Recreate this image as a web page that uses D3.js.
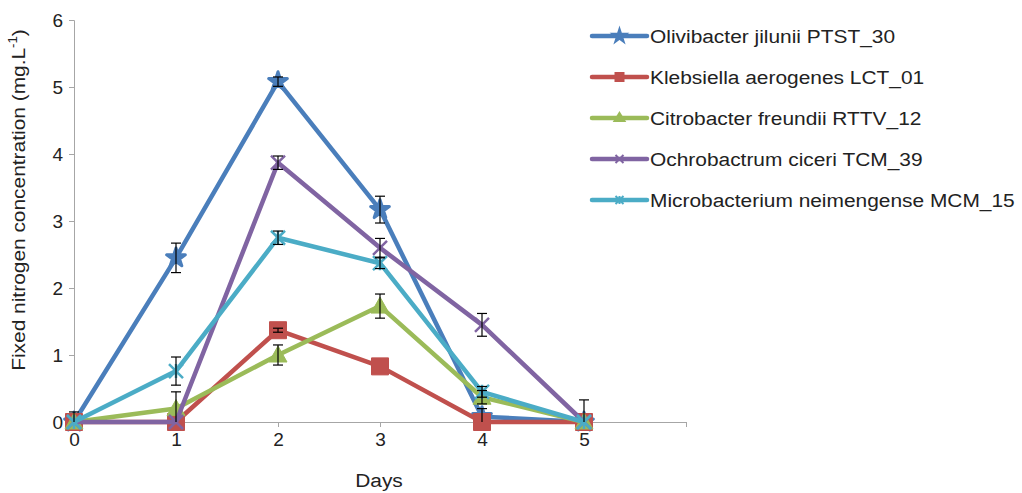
<!DOCTYPE html>
<html>
<head>
<meta charset="utf-8">
<script src="https://cdn.jsdelivr.net/npm/d3@7"></script>
<style>
  body { margin: 0; background: #fff; }
  svg { font-family: "Liberation Sans", Arial, sans-serif; }
</style>
</head>
<body>
<svg id="chart" width="1022" height="493"></svg>
<script>
// Data
var days = [0, 1, 2, 3, 4, 5];
var seriesNames = [
    'Olivibacter jilunii PTST_30',
    'Klebsiella aerogenes LCT_01',
    'Citrobacter freundii RTTV_12',
    'Ochrobactrum ciceri TCM_39',
    'Microbacterium neimengense MCM_15'
];
var olivibacter    = [0, 2.45, 5.08, 3.17, 0.08, 0];
var klebsiella     = [0, 0, 1.37, 0.83, 0, 0];
var citrobacter    = [0, 0.2, 1.0, 1.73, 0.37, 0];
var ochrobactrum   = [0, 0, 3.87, 2.6, 1.45, 0];
var microbacterium = [0, 0.76, 2.75, 2.37, 0.45, 0];

var olivibacterErr    = [0.15, 0.22, 0.07, 0.2, 0.12, 0.33];
var klebsiellaErr     = [0, 0, 0.03, 0, 0, 0];
var citrobacterErr    = [0, 0.25, 0.15, 0.18, 0.1, 0];
var ochrobactrumErr   = [0, 0, 0.1, 0.14, 0.17, 0];
var microbacteriumErr = [0, 0.21, 0.1, 0.08, 0.08, 0];

var yTicks = [0, 1, 2, 3, 4, 5, 6];

var colors = ['#4a7ebb', '#c0504d', '#9bbb59', '#8064a2', '#4bacc6'];
var markers = ['star', 'square', 'triangle', 'cross', 'asterisk'];
var markerSizes = [11, 17, 16, 14, 14];

var series = [olivibacter, klebsiella, citrobacter, ochrobactrum, microbacterium].map(function (vals, i) {
    var errs = [olivibacterErr, klebsiellaErr, citrobacterErr, ochrobactrumErr, microbacteriumErr][i];
    return {
        name: seriesNames[i],
        color: colors[i],
        marker: markers[i],
        size: markerSizes[i],
        points: vals.map(function (v, j) { return { day: days[j], value: v, err: errs[j] }; })
    };
});

var svg = d3.select('#chart');
var FONT = 19;
var TEXT_COLOR = '#222';

// Plot area
var x = d3.scaleLinear().domain([0, 6]).range([74, 686]);
var y = d3.scaleLinear().domain([0, 6]).range([422, 20]);
var AXIS_COLOR = '#a6a6a6';

// y axis
var yAxis = svg.append('g')
    .attr('transform', 'translate(' + x(0) + ',0)')
    .call(d3.axisLeft(y).tickValues(yTicks).tickSize(5).tickPadding(6).tickFormat(d3.format('d')));
yAxis.select('.domain').attr('stroke', AXIS_COLOR);
yAxis.selectAll('.tick line').attr('stroke', AXIS_COLOR);
yAxis.selectAll('text').attr('font-size', FONT).attr('fill', TEXT_COLOR)
    .attr('font-family', '"Liberation Sans", Arial, sans-serif');

// x axis
var xAxis = svg.append('g')
    .attr('transform', 'translate(0,' + y(0) + ')')
    .call(d3.axisBottom(x).tickValues([0, 1, 2, 3, 4, 5, 6]).tickSize(5).tickPadding(6)
        .tickFormat(function (d) { return d < 6 ? d : ''; }));
xAxis.select('.domain').attr('stroke', AXIS_COLOR);
xAxis.selectAll('.tick line').attr('stroke', AXIS_COLOR);
xAxis.selectAll('text').attr('font-size', FONT).attr('fill', TEXT_COLOR)
    .attr('font-family', '"Liberation Sans", Arial, sans-serif');

// Axis titles
svg.append('text')
    .attr('transform', 'translate(379,487) scale(1.1,1)')
    .attr('text-anchor', 'middle')
    .attr('font-size', FONT).attr('fill', TEXT_COLOR)
    .text('Days');

var yTitle = svg.append('text')
    .attr('transform', 'translate(25,200) rotate(-90) scale(1.1,1)')
    .attr('text-anchor', 'middle')
    .attr('font-size', FONT).attr('fill', TEXT_COLOR);
yTitle.append('tspan').text('Fixed nitrogen concentration (mg.L');
yTitle.append('tspan').attr('font-size', 12).attr('dy', -8).text('-1');
yTitle.append('tspan').attr('dy', 8).text(')');

// Marker shapes
function markerPath(type, s) {
    var h = s / 2;
    switch (type) {
        case 'square':
            return 'M' + -h + ',' + -h + 'H' + h + 'V' + h + 'H' + -h + 'Z';
        case 'triangle':
            return 'M0,' + (-h - 1) + 'L' + (h + 1) + ',' + (h - 1) + 'H' + (-h - 1) + 'Z';
        case 'star':
            return d3.symbol().type(d3.symbolStar).size(s * s * 0.9)();
        case 'cross':
            return 'M' + -h + ',' + -h + 'L' + h + ',' + h + 'M' + -h + ',' + h + 'L' + h + ',' + -h;
        case 'asterisk':
            return 'M' + -h + ',' + -h + 'L' + h + ',' + h + 'M' + -h + ',' + h + 'L' + h + ',' + -h +
                'M0,' + -h + 'V' + h;
    }
}
function isStroked(type) { return type === 'cross' || type === 'asterisk'; }

var line = d3.line()
    .x(function (d) { return x(d.day); })
    .y(function (d) { return y(d.value); });

var plot = svg.append('g');

series.forEach(function (s) {
    var g = plot.append('g');
    g.append('path')
        .datum(s.points)
        .attr('d', line)
        .attr('fill', 'none')
        .attr('stroke', s.color)
        .attr('stroke-width', 4.5)
        .attr('stroke-linejoin', 'round');

    g.selectAll('.marker')
        .data(s.points)
        .enter().append('path')
        .attr('class', 'marker')
        .attr('transform', function (d) { return 'translate(' + x(d.day) + ',' + y(d.value) + ')'; })
        .attr('d', markerPath(s.marker, s.size))
        .attr('fill', isStroked(s.marker) ? 'none' : s.color)
        .attr('stroke', s.color)
        .attr('stroke-width', isStroked(s.marker) ? 2.5 : (s.marker === 'star' ? 3 : 1))
        .attr('stroke-linejoin', 'round');
});

// Error bars (clipped at the axis like the original)
var CAP = 5;
series.forEach(function (s) {
    var bars = plot.append('g').selectAll('g')
        .data(s.points.filter(function (d) { return d.err > 0; }))
        .enter().append('g')
        .attr('stroke', '#000')
        .attr('stroke-width', 1.2);
    bars.append('line')
        .attr('x1', function (d) { return x(d.day); })
        .attr('x2', function (d) { return x(d.day); })
        .attr('y1', function (d) { return y(Math.max(0, d.value - d.err)); })
        .attr('y2', function (d) { return y(d.value + d.err); });
    bars.append('line')
        .attr('x1', function (d) { return x(d.day) - CAP; })
        .attr('x2', function (d) { return x(d.day) + CAP; })
        .attr('y1', function (d) { return y(d.value + d.err); })
        .attr('y2', function (d) { return y(d.value + d.err); });
    bars.filter(function (d) { return d.value - d.err > 0; }).append('line')
        .attr('x1', function (d) { return x(d.day) - CAP; })
        .attr('x2', function (d) { return x(d.day) + CAP; })
        .attr('y1', function (d) { return y(d.value - d.err); })
        .attr('y2', function (d) { return y(d.value - d.err); });
});

// Legend
var legend = svg.append('g')
    .selectAll('g')
    .data(series)
    .enter().append('g')
    .attr('transform', function (d, i) { return 'translate(592,' + (36 + i * 41) + ')'; });
legend.append('line')
    .attr('x1', 0).attr('x2', 55)
    .attr('stroke', function (d) { return d.color; })
    .attr('stroke-width', 4.5)
    .attr('stroke-linecap', 'round');
legend.append('path')
    .attr('transform', 'translate(27.5,0)')
    .attr('d', function (d) { return markerPath(d.marker, 8); })
    .attr('fill', function (d) { return isStroked(d.marker) ? 'none' : d.color; })
    .attr('stroke', function (d) { return d.color; })
    .attr('stroke-width', 2);
legend.append('text')
    .attr('transform', 'translate(58,7) scale(1.1,1)')
    .attr('font-size', FONT).attr('fill', TEXT_COLOR)
    .text(function (d) { return d.name; });
</script>
</body>
</html>
